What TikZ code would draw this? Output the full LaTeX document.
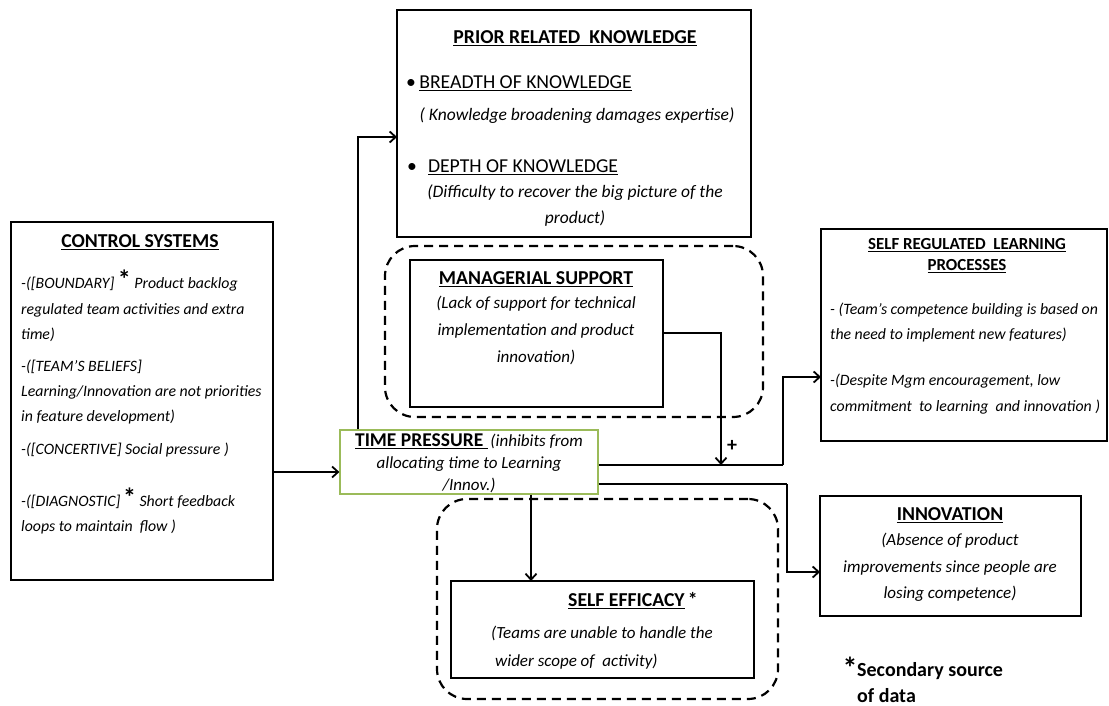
\documentclass[tikz,border=0pt]{standalone}
\usepackage{fontspec}
\setmainfont{Carlito}
\usetikzlibrary{arrows.meta,calc}
\newcommand\fsz[1]{\fontsize{#1}{#1}\selectfont}
\newcommand\bigast{{\upshape\bfseries\fsz{26}*}}
\definecolor{tpgreen}{RGB}{155,187,89}
\begin{document}
\begin{tikzpicture}[x=1pt,y=-1pt,
  box/.style={draw, line width=2pt, inner sep=0pt, outer sep=0pt},
  dbox/.style={draw, line width=2.2pt, dash pattern=on 9pt off 6pt, rounded corners=30pt, inner sep=0pt},
  arr/.style={line width=1.8pt, -{Straight Barb[length=6pt,width=11pt,line width=1.8pt]}},
  hd/.style={font=\fsz{19.7}\bfseries, inner sep=0pt},
  itc/.style={font=\fsz{17}\itshape, inner sep=0pt},
  itw/.style={font=\fsz{17}\itshape, inner sep=0pt, anchor=west},
]
\useasboundingbox (0,0) rectangle (1109,706);

% boxes
\node[box, minimum width=262pt, minimum height=358pt] (cs) at (142,401) {};
\node[box, minimum width=354pt, minimum height=227pt] (prk) at (574,123.5) {};
\node[dbox, minimum width=378pt, minimum height=171pt] (msd) at (574,331.5) {};
\node[box, minimum width=253pt, minimum height=147pt] (ms) at (536.5,333.5) {};
\node[draw=tpgreen, line width=1.2pt, fill=white, minimum width=258pt, minimum height=64pt, inner sep=0pt] (tp) at (469,462) {};
\node[box, minimum width=286pt, minimum height=212pt] (srl) at (964,335) {};
\node[box, minimum width=261pt, minimum height=120pt] (inn) at (950.5,556) {};
\node[dbox, minimum width=341pt, minimum height=200pt] (sed) at (607.5,599) {};
\node[box, minimum width=303pt, minimum height=97pt] (se) at (602.5,629.5) {};

% control systems text
\node[hd] (csh) at (140,242) {\underline{CONTROL SYSTEMS}};
\node[itw, font=\fsz{15.8}\itshape] (cs1) at (21,281) {-([BOUNDARY]\ \bigast\ Product backlog};
\node[itw, font=\fsz{15.8}\itshape] (cs2) at (21,310) {regulated team activities and extra};
\node[itw, font=\fsz{15.8}\itshape] (cs3) at (21,335) {time)};
\node[itw, font=\fsz{15.8}\itshape] (cs4) at (21,367) {-([TEAM'S BELIEFS]};
\node[itw, font=\fsz{15.8}\itshape] (cs5) at (21,392) {Learning/Innovation are not priorities};
\node[itw, font=\fsz{15.8}\itshape] (cs6) at (21,417) {in feature development)};
\node[itw, font=\fsz{15.8}\itshape] (cs7) at (21,450) {-([CONCERTIVE] Social pressure )};
\node[itw, font=\fsz{15.8}\itshape] (cs8) at (21,498) {-([DIAGNOSTIC]\,\bigast\ Short feedback};
\node[itw, font=\fsz{15.8}\itshape] (cs9) at (21,527) {loops to maintain\ \ flow )};

% prior related knowledge
\node[hd] (prh) at (575,38) {\underline{PRIOR RELATED\ \ KNOWLEDGE}};
\node[font=\fsz{19.7}, inner sep=0pt, anchor=west] (pr1) at (406,83) {\textbullet\,\underline{BREADTH OF KNOWLEDGE}};
\node[itc, font=\fsz{17.5}\itshape] (pr2) at (577,116) {( Knowledge broadening damages expertise)};
\node[font=\fsz{19.7}, inner sep=0pt, anchor=west] (pr3) at (407,167) {\textbullet\hspace{11pt}\underline{DEPTH OF KNOWLEDGE}};
\node[itc, font=\fsz{17.5}\itshape] (pr4) at (575,193) {(Difficulty to recover the big picture of the};
\node[itc, font=\fsz{17.5}\itshape] (pr5) at (575,219) {product)};

% managerial support
\node[hd] (msh) at (536,279) {\underline{MANAGERIAL SUPPORT}};
\node[itc] (ms1) at (536,304) {(Lack of support for technical};
\node[itc] (ms2) at (536,331) {implementation and product};
\node[itc] (ms3) at (536,357) {innovation)};

% time pressure
\node[inner sep=0pt, font=\fsz{17}] (tp1) at (469,441) {{\fsz{19.5}\underline{\bfseries TIME PRESSURE\ }}\,\textit{(inhibits from}};
\node[itc] (tp2) at (469,464) {allocating time to Learning};
\node[itc] (tp3) at (469,485) {/Innov.)};

% self regulated learning
\node[hd, font=\fsz{16.9}\bfseries] (srh1) at (967,245) {\underline{SELF REGULATED\ \ LEARNING}};
\node[hd, font=\fsz{16.9}\bfseries] (srh2) at (967,266) {\underline{PROCESSES}};
\node[itw, font=\fsz{15.8}\itshape] (sr1) at (830,310) {- (Team's competence building is based on};
\node[itw, font=\fsz{15.8}\itshape] (sr2) at (830,335) {the need to implement new features)};
\node[itw, font=\fsz{15.8}\itshape] (sr3) at (830,381) {-(Despite Mgm encouragement, low};
\node[itw, font=\fsz{15.8}\itshape] (sr4) at (830,407) {commitment\ \ to learning\ \ and innovation )};

% innovation
\node[hd] (inh) at (950,515) {\underline{INNOVATION}};
\node[itc] (in1) at (950,541) {(Absence of product};
\node[itc] (in2) at (950,568) {improvements since people are};
\node[itc] (in3) at (950,594) {losing competence)};

% self efficacy
\node[hd, anchor=west] (seh) at (568,601) {\underline{SELF EFFICACY}\,*};
\node[itw] (se1) at (491,633) {(Teams are unable to handle the};
\node[itw] (se2) at (495,662) {wider scope of\ \ activity)};

% footnote
\node[inner sep=0pt, font=\fsz{30}\bfseries] (fast) at (850,668) {*};
\node[inner sep=0pt, font=\fsz{20}\bfseries, anchor=west] (fn1) at (857,671) {Secondary\ source};
\node[inner sep=0pt, font=\fsz{20}\bfseries, anchor=west] (fn2) at (857,696) {of data};

% helper coordinates
\coordinate (y472) at (0,472);
\coordinate (a1) at (358,137);
\coordinate (m1) at (0,333);
\coordinate (j) at (721,465);
\coordinate (b1) at (783,465);
\coordinate (b2) at (0,377);
\coordinate (c1) at (787,484);
\coordinate (c2) at (0,572);
\coordinate (d1) at (531,0);

% connectors
\draw[arr] (cs.east |- y472) -- (tp.west |- y472);
\draw[arr] (tp.north -| a1) |- (prk.west |- a1);
\draw[arr] (ms.east |- m1) -| (j);
\node[inner sep=0pt, font=\fsz{20}\bfseries] (plus) at (732,446) {+};
\draw[line width=1.8pt] (tp.east |- b1) -- (b1);
\draw[arr] (b1) |- (srl.west |- b2);
\draw[line width=1.8pt] (tp.east |- c1) -- (c1);
\draw[arr] (c1) |- (inn.west |- c2);
\draw[arr] (tp.south -| d1) -- (se.north -| d1);
\end{tikzpicture}
\end{document}
